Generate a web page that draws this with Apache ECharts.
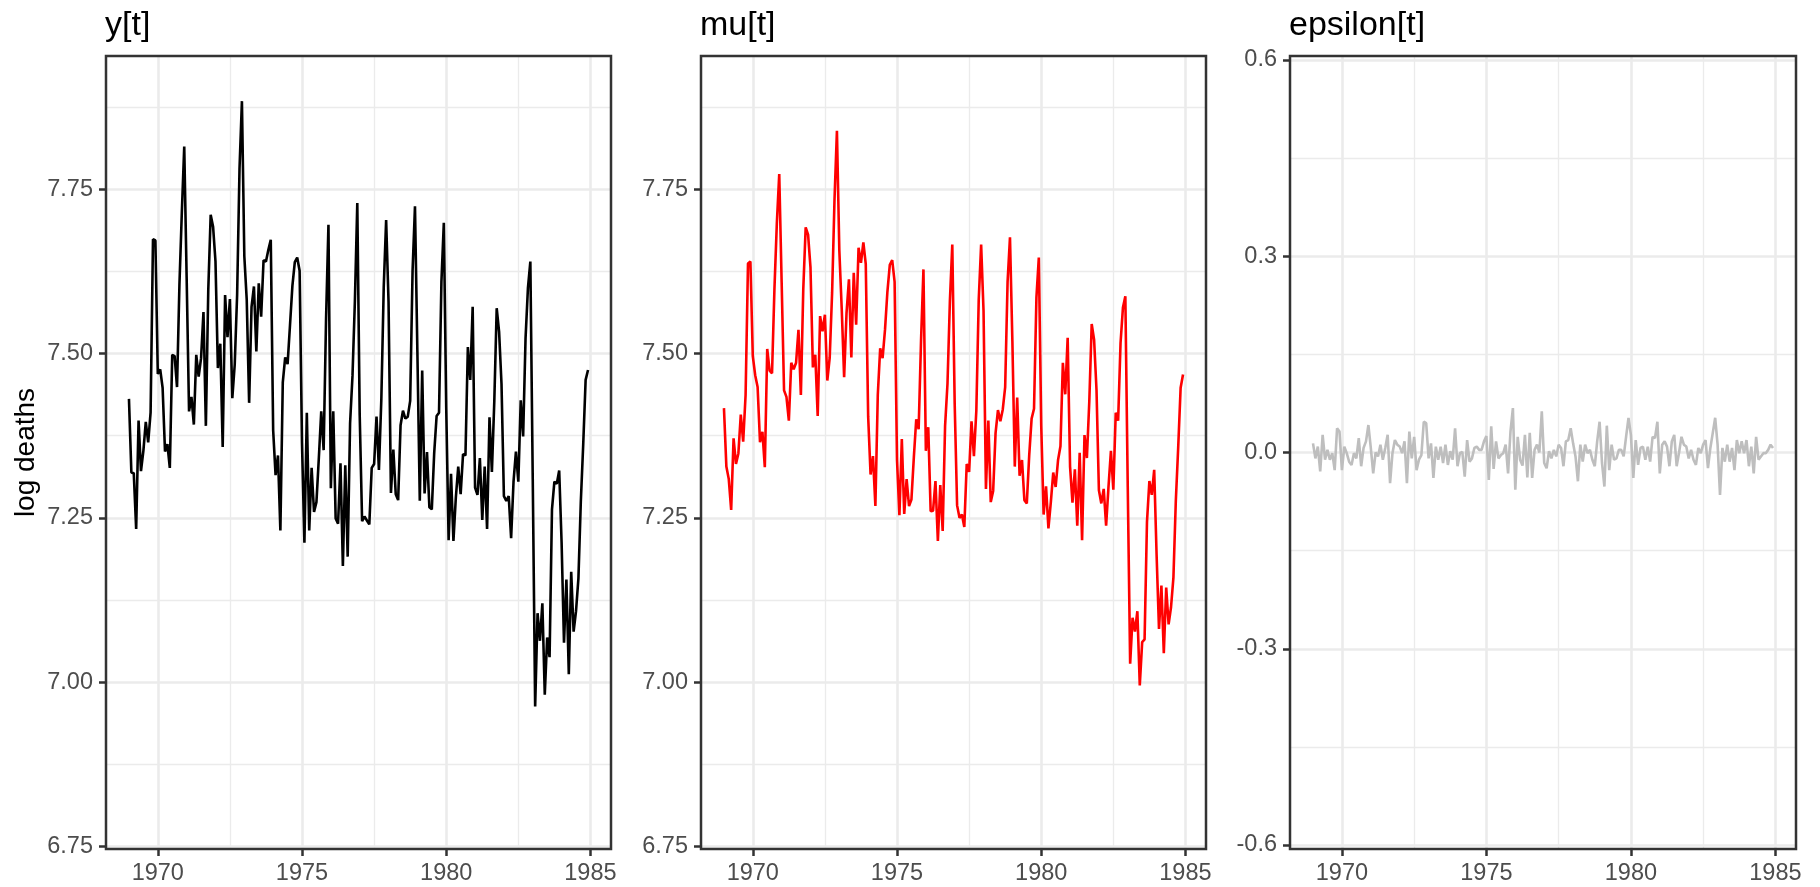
<!DOCTYPE html>
<html><head><meta charset="utf-8">
<script src="https://cdn.jsdelivr.net/npm/echarts@6/dist/echarts.min.js"></script>
<style>html,body{margin:0;padding:0;background:#fff}#c{width:1820px;height:887px}</style>
</head><body><div id="c"></div>
<script>
// ---- data ----
const startYear = 1969;   // monthly series, Jan 1969 - Dec 1984
const monthsPerYear = 12;
const logDeaths = [
7.431,7.319,7.318,7.233,7.398,7.321,7.352,7.396,7.365,7.410,7.674,7.672,
7.469,7.476,7.448,7.351,7.362,7.326,7.498,7.496,7.449,7.605,7.715,7.815,
7.616,7.412,7.434,7.392,7.498,7.465,7.493,7.563,7.390,7.597,7.711,7.693,
7.640,7.478,7.515,7.358,7.589,7.525,7.583,7.432,7.483,7.589,7.782,7.884,
7.648,7.582,7.425,7.571,7.602,7.503,7.607,7.556,7.642,7.640,7.658,7.673,
7.383,7.315,7.345,7.231,7.456,7.494,7.484,7.543,7.603,7.639,7.646,7.626,
7.363,7.212,7.410,7.231,7.326,7.259,7.274,7.341,7.412,7.353,7.552,7.696,
7.295,7.412,7.249,7.241,7.333,7.177,7.330,7.191,7.394,7.466,7.580,7.729,
7.407,7.245,7.252,7.246,7.240,7.326,7.332,7.404,7.323,7.430,7.601,7.703,
7.579,7.288,7.354,7.286,7.277,7.391,7.413,7.401,7.404,7.428,7.626,7.724,
7.503,7.276,7.474,7.287,7.350,7.266,7.263,7.349,7.405,7.410,7.609,7.699,
7.418,7.216,7.317,7.215,7.281,7.328,7.286,7.347,7.345,7.510,7.460,7.571,
7.296,7.285,7.341,7.247,7.328,7.233,7.403,7.320,7.427,7.569,7.533,7.454,
7.283,7.276,7.283,7.219,7.305,7.351,7.305,7.429,7.374,7.523,7.600,7.640,
7.309,6.963,7.105,7.063,7.120,6.981,7.068,7.038,7.263,7.305,7.302,7.322,
7.213,7.060,7.156,7.012,7.168,7.077,7.108,7.158,7.275,7.362,7.460,7.475
];
const mu = [
7.417,7.328,7.309,7.262,7.371,7.332,7.348,7.407,7.366,7.437,7.637,7.640,
7.496,7.467,7.449,7.365,7.381,7.327,7.507,7.474,7.470,7.598,7.698,7.773,
7.609,7.444,7.434,7.398,7.486,7.476,7.486,7.536,7.437,7.598,7.692,7.681,
7.631,7.479,7.498,7.405,7.557,7.534,7.559,7.459,7.494,7.593,7.735,7.839,
7.657,7.568,7.464,7.562,7.613,7.494,7.623,7.544,7.661,7.638,7.669,7.636,
7.404,7.316,7.344,7.268,7.437,7.508,7.493,7.536,7.594,7.635,7.642,7.609,
7.338,7.254,7.370,7.256,7.309,7.268,7.278,7.342,7.400,7.385,7.520,7.628,
7.352,7.388,7.260,7.261,7.306,7.215,7.300,7.230,7.390,7.454,7.580,7.666,
7.423,7.269,7.250,7.255,7.236,7.332,7.320,7.397,7.344,7.413,7.582,7.666,
7.565,7.294,7.398,7.274,7.291,7.379,7.414,7.397,7.415,7.449,7.609,7.677,
7.519,7.328,7.433,7.314,7.338,7.277,7.272,7.345,7.401,7.416,7.585,7.646,
7.391,7.255,7.298,7.234,7.274,7.319,7.297,7.338,7.359,7.486,7.438,7.524,
7.328,7.273,7.324,7.238,7.349,7.216,7.376,7.341,7.427,7.545,7.521,7.445,
7.292,7.272,7.294,7.238,7.298,7.352,7.293,7.410,7.398,7.516,7.570,7.587,
7.297,7.028,7.098,7.077,7.108,6.995,7.061,7.065,7.244,7.306,7.285,7.323,
7.194,7.081,7.147,7.044,7.144,7.088,7.114,7.159,7.276,7.358,7.448,7.468
];
const epsilon = [
0.014,-0.009,0.009,-0.029,0.027,-0.011,0.004,-0.011,-0.001,-0.027,0.037,0.032,
-0.027,0.009,-0.001,-0.014,-0.019,-0.001,-0.009,0.022,-0.021,0.007,0.017,0.042,
0.007,-0.032,0.000,-0.006,0.012,-0.011,0.007,0.027,-0.047,-0.001,0.019,0.012,
0.009,-0.001,0.017,-0.047,0.032,-0.009,0.024,-0.027,-0.011,-0.004,0.047,0.045,
-0.009,0.014,-0.039,0.009,-0.011,0.009,-0.016,0.012,-0.019,0.002,-0.011,0.037,
-0.021,-0.001,0.001,-0.037,0.019,-0.014,-0.009,0.007,0.009,0.004,0.004,0.017,
0.025,-0.042,0.040,-0.025,0.017,-0.009,-0.004,-0.001,0.012,-0.032,0.032,0.068,
-0.057,0.024,-0.011,-0.020,0.027,-0.038,0.030,-0.039,0.004,0.012,0.000,0.063,
-0.016,-0.024,0.002,-0.009,0.004,-0.006,0.012,0.007,-0.021,0.017,0.019,0.037,
0.014,-0.006,-0.044,0.012,-0.014,0.012,-0.001,0.004,-0.011,-0.021,0.017,0.047,
-0.016,-0.052,0.041,-0.027,0.012,-0.011,-0.009,0.004,0.004,-0.006,0.024,0.053,
0.027,-0.039,0.019,-0.019,0.007,0.009,-0.011,0.009,-0.014,0.024,0.022,0.047,
-0.032,0.012,0.017,0.009,-0.021,0.017,0.027,-0.021,0.000,0.024,0.012,0.009,
-0.009,0.004,-0.011,-0.019,0.007,-0.001,0.012,0.019,-0.024,0.007,0.030,0.053,
0.012,-0.065,0.007,-0.014,0.012,-0.014,0.007,-0.027,0.019,-0.001,0.017,-0.001,
0.019,-0.021,0.009,-0.032,0.024,-0.011,-0.006,-0.001,-0.001,0.004,0.012,0.007
];
const panelTitles = ['y[t]', 'mu[t]', 'epsilon[t]'];
const yAxisTitle = 'log deaths';
const xMajorTicks = [1970, 1975, 1980, 1985];
const xMinorGrid = [1972.5, 1977.5, 1982.5];
const levelMajorTicks = [6.75, 7.00, 7.25, 7.50, 7.75];
const levelMinorGrid = [6.875, 7.125, 7.375, 7.625, 7.875];
const epsMajorTicks = [-0.6, -0.3, 0, 0.3, 0.6];
const epsMinorGrid = [-0.45, -0.15, 0.15, 0.45];

// ---- layout / style ----
const FONT = 'Liberation Sans, Arial, sans-serif';
const panels = [
  {left: 106, width: 505, series: logDeaths, color: '#000000', ymin: 6.7462, ymax: 7.9527, ticks: levelMajorTicks, minor: levelMinorGrid, dec: 2},
  {left: 701, width: 505, series: mu, color: '#FF0000', ymin: 6.7462, ymax: 7.9527, ticks: levelMajorTicks, minor: levelMinorGrid, dec: 2},
  {left: 1290, width: 506, series: epsilon, color: '#BEBEBE', ymin: -0.6061, ymax: 0.6061, ticks: epsMajorTicks, minor: epsMinorGrid, dec: 1}
];
const TOP = 56, HEIGHT = 793;
const XMIN = 1968.204, XMAX = 1985.713;
const GRID = '#EBEBEB', BORDER = '#333333', TICKTXT = '#4D4D4D';

const grids = [], xAxes = [], yAxes = [], series = [], titles = [];
panels.forEach((p, g) => {
  grids.push({left: p.left, top: TOP, width: p.width, height: HEIGHT, show: true,
    borderColor: BORDER, borderWidth: 2.5, backgroundColor: 'transparent', outerBoundsMode: 'none', z: 3});
  xAxes.push({type: 'value', gridIndex: g, min: XMIN, max: XMAX, position: 'bottom',
    axisLine: {show: false, onZero: false},
    axisTick: {show: true, length: 7, lineStyle: {color: BORDER, width: 2.5}, customValues: xMajorTicks},
    axisLabel: {show: true, customValues: xMajorTicks, margin: 13, color: TICKTXT, fontSize: 23.5, fontFamily: FONT,
      formatter: v => String(Math.round(v))},
    splitLine: {show: true, lineStyle: {color: GRID, width: 2.6}}, z: 1});
  xAxes.push({type: 'value', gridIndex: g, min: XMIN, max: XMAX, position: 'top',
    axisLine: {show: false, onZero: false}, axisLabel: {show: false},
    axisTick: {show: false, customValues: xMinorGrid},
    splitLine: {show: true, lineStyle: {color: GRID, width: 1.3}}, z: 0});
  yAxes.push({type: 'value', gridIndex: g, min: p.ymin, max: p.ymax, position: 'left',
    axisLine: {show: false, onZero: false},
    axisTick: {show: true, length: 7, lineStyle: {color: BORDER, width: 2.5}, customValues: p.ticks},
    axisLabel: {show: true, customValues: p.ticks, margin: 13, color: TICKTXT, fontSize: 23.5, fontFamily: FONT,
      formatter: v => v.toFixed(p.dec)},
    splitLine: {show: true, lineStyle: {color: GRID, width: 2.6}}, z: 1});
  yAxes.push({type: 'value', gridIndex: g, min: p.ymin, max: p.ymax, position: 'right',
    axisLine: {show: false, onZero: false}, axisLabel: {show: false},
    axisTick: {show: false, customValues: p.minor},
    splitLine: {show: true, lineStyle: {color: GRID, width: 1.3}}, z: 0});
  series.push({type: 'line', xAxisIndex: 2 * g, yAxisIndex: 2 * g, showSymbol: false, symbol: 'none',
    data: p.series.map((v, i) => [startYear + i / monthsPerYear, v]),
    lineStyle: {color: p.color, width: 2.6}, itemStyle: {color: p.color}, z: 2, silent: true});
  titles.push({text: panelTitles[g], left: p.left - 1, top: 9, padding: 0,
    textStyle: {fontSize: 34, fontWeight: 'normal', color: '#000', fontFamily: FONT}});
});

const chart = echarts.init(document.getElementById('c'), null, {renderer: 'canvas'});
chart.setOption({
  animation: false,
  backgroundColor: '#fff',
  title: titles,
  grid: grids, xAxis: xAxes, yAxis: yAxes, series: series,
  graphic: [{type: 'text', x: 26, y: TOP + HEIGHT / 2, rotation: Math.PI / 2,
    style: {text: yAxisTitle, fontSize: 28, fontFamily: FONT, fill: '#000', align: 'center', verticalAlign: 'middle'}}]
});
</script></body></html>
